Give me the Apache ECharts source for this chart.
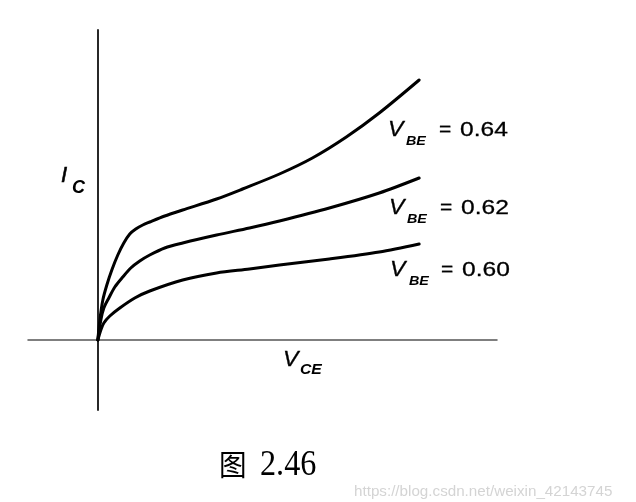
<!DOCTYPE html>
<html>
<head>
<meta charset="utf-8">
<script src="https://cdn.jsdelivr.net/npm/echarts@6/dist/echarts.min.js"></script>
<style>
html,body{margin:0;padding:0;background:#fff;}
#main{width:636px;height:502px;}
</style>
</head>
<body>
<div id="main"></div>
<script>
// V_CE (arbitrary units) and I_C (arbitrary units)
var vbe064 = [[0,0],[0.2,2.0],[0.5,4.0],[0.9,5.5],[1.4,7.0],[2.0,8.5],[2.6,9.7],[3.2,10.6],[3.8,11.1],[4.5,11.5],[5.2,11.8],[6.7,12.4],[8.5,13.0],[11.9,14.1],[14.5,15.1],[18.2,16.6],[21.5,18.2],[24.9,20.3],[28.2,22.7],[32.2,26.0]];
var vbe062 = [[0,0],[0.3,2.0],[0.6,3.2],[1.1,4.2],[1.7,5.3],[2.5,6.3],[3.3,7.2],[4.2,7.9],[5.2,8.5],[6.7,9.2],[8.5,9.7],[11.9,10.5],[15.2,11.2],[18.2,11.9],[23.2,13.2],[28.2,14.7],[32.2,16.2]];
var vbe060 = [[0,0],[0.3,1.0],[0.6,1.7],[1.2,2.4],[2.2,3.2],[3.7,4.2],[5.2,4.9],[8.5,6.0],[11.9,6.7],[15.2,7.1],[18.2,7.5],[23.2,8.1],[28.2,8.8],[32.2,9.6]];
var curveValues = ['0.64','0.62','0.60'];
var xAxisName = ['V','CE'];
var yAxisName = ['I','C'];
var caption = ['图','2.46'];
var watermark = 'https://blog.csdn.net/weixin_42143745';

var chart = echarts.init(document.getElementById('main'));
var sans = '"Liberation Sans", Arial, sans-serif';
var lineStyle = {color:'#000', width:3.0, cap:'round', join:'round'};
function ser(name, data){
  return {name:name, type:'line', data:data, showSymbol:false, symbol:'none',
    smooth:0.3, lineStyle:lineStyle, silent:true, animation:false};
}
function txt(x,y,t,size,style,weight,sx,color,family,stroke){
  var st = {text:t, fontSize:size, fontStyle:style||'normal', fontWeight:weight||'normal',
      fontFamily:family||sans, fill:color||'#000', align:'left', verticalAlign:'middle'};
  if (stroke) { st.stroke = color||'#000'; st.lineWidth = stroke; }
  return {type:'text', x:x, y:y, scaleX:sx||1, silent:true, style:st};
}
function vbeLabel(x,y,val,dx,dy){
  return [
    txt(x,y,'V',22,'italic','normal',1.05,'#000',null,0.35),
    txt(x+18+(dx||0),y+11+(dy||0),'BE',13,'italic','bold',1.1,'#000',null,0),
    txt(x+51,y,'=',21,'normal','normal',1.0,'#000',null,0.3),
    txt(x+72,y,val,21,'normal','normal',1.17,'#000',null,0.3)
  ];
}
var graphics = [];
graphics = graphics.concat(vbeLabel(388,130,curveValues[0]));
graphics = graphics.concat(vbeLabel(389,208,curveValues[1]));
graphics = graphics.concat(vbeLabel(390,270,curveValues[2],1,0));
graphics.push(txt(61,176,yAxisName[0],22,'italic','normal',1,'#000',null,0.6));
graphics.push(txt(72,188,yAxisName[1],18,'italic','bold',1,'#000',null,0));
graphics.push(txt(283,360,xAxisName[0],22,'italic','normal',1.05,'#000',null,0.35));
graphics.push(txt(300,370,xAxisName[1],15,'italic','bold',1.05,'#000',null,0));
graphics.push(txt(219,465,caption[0],29,'normal','normal',0.95,'#000','"Noto Sans CJK SC", sans-serif'));
graphics.push(txt(260,466,caption[1],35,'normal','normal',0.92,'#000','"Liberation Serif", "Times New Roman", serif'));
graphics.push(txt(354,492,watermark,15.5,'normal','normal',0.98,'#d4d4d4'));

chart.setOption({
  animation:false,
  backgroundColor:'#fff',
  grid:{left:28, right:139, top:30, bottom:92},
  xAxis:{type:'value', min:-7, max:40, interval:1,
    axisLine:{show:true, onZero:true, lineStyle:{color:'#555', width:1.5}},
    axisTick:{show:false}, axisLabel:{show:false}, splitLine:{show:false}},
  yAxis:{type:'value', min:-7, max:31, interval:1,
    axisLine:{show:true, onZero:true, lineStyle:{color:'#111', width:1.8}},
    axisTick:{show:false}, axisLabel:{show:false}, splitLine:{show:false}},
  series:[ser('VBE=0.64',vbe064), ser('VBE=0.62',vbe062), ser('VBE=0.60',vbe060)],
  graphic:graphics
});
</script>
</body>
</html>
